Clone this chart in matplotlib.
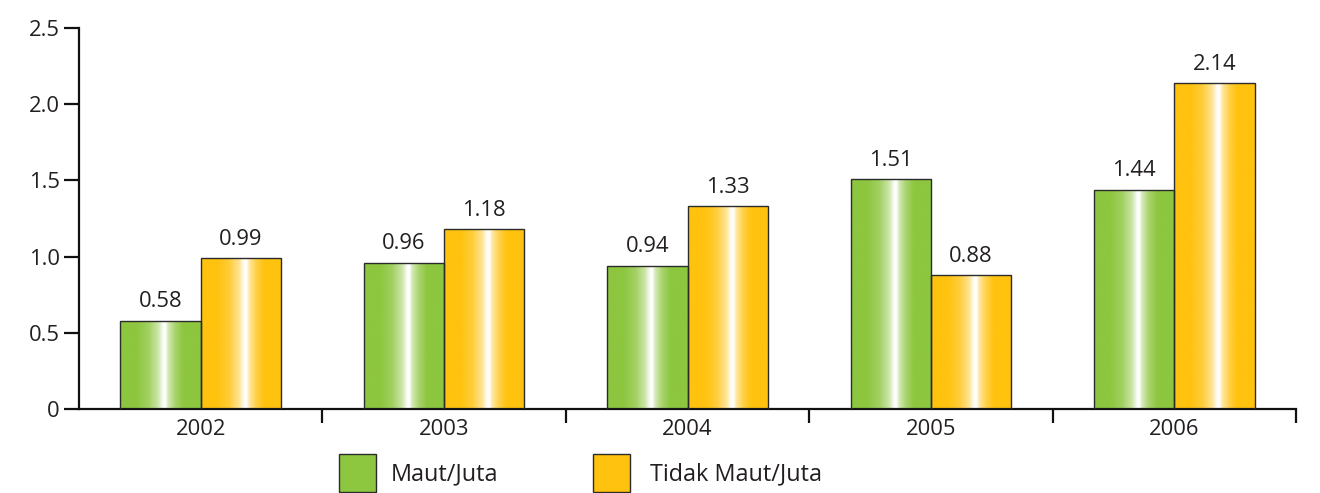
import numpy as np
import matplotlib
matplotlib.use("Agg")
import matplotlib.pyplot as plt
from matplotlib.patches import Rectangle

years = ["2002", "2003", "2004", "2005", "2006"]
maut = [0.58, 0.96, 0.94, 1.51, 1.44]
tidak_maut = [0.99, 1.18, 1.33, 0.88, 2.14]
series_names = ["Maut/Juta", "Tidak Maut/Juta"]
yticks = [0, 0.5, 1.0, 1.5, 2.0, 2.5]
ytick_labels = ["0", "0.5", "1.0", "1.5", "2.0", "2.5"]

GREEN = "#8dc63f"
ORANGE = "#ffc20e"
TXT = "#231f20"
FONT = ["Open Sans", "DejaVu Sans"]
plt.rcParams["font.family"] = FONT

fig = plt.figure(figsize=(13.2, 4.93), dpi=100)
W, H = 1320, 493
ax = fig.add_axes([79 / W, (H - 409) / H, (1296 - 79) / W, (409 - 28) / H])

x = np.arange(len(years))
bw = 0.33


def gradient_img(color):
    rgb = np.array(matplotlib.colors.to_rgb(color))
    t = np.linspace(0, 1, 256)
    w = np.interp(t, [0, 0.2, 0.35, 0.47, 0.54, 0.56, 0.6, 0.68, 0.78, 1.0],
                  [0, 0, 0.18, 0.55, 1.0, 1.0, 0.6, 0.25, 0.0, 0.0])
    img = rgb[None, :] * (1 - w[:, None]) + w[:, None]
    return img[None, :, :]


for vals, off, col in [(maut, -bw / 2, GREEN), (tidak_maut, bw / 2, ORANGE)]:
    bars = ax.bar(x + off, vals, width=bw, color=col, edgecolor="none", zorder=2)
    img = gradient_img(col)
    for b in bars:
        x0, y0 = b.get_x(), b.get_y()
        im = ax.imshow(img, extent=[x0, x0 + b.get_width(), y0, y0 + b.get_height()],
                       aspect="auto", zorder=2.5, interpolation="bilinear")
        im.set_clip_path(b)
    ax.bar(x + off, vals, width=bw, fill=False, edgecolor="#2b2b2b", linewidth=1.0, zorder=3)
    for xi, v in zip(x + off, vals):
        ax.annotate(f"{v:.2f}", (xi, v), xytext=(0, 13.5), textcoords="offset points",
                    ha="center", va="center", fontsize=15.8, color=TXT)

ax.set_xlim(-0.5, len(years) - 0.5)
ax.set_ylim(0, 2.5)

for s in ["top", "right"]:
    ax.spines[s].set_visible(False)
for s in ["left", "bottom"]:
    ax.spines[s].set_linewidth(1.6)
    ax.spines[s].set_color("#111111")

ax.set_yticks(yticks)
ax.set_yticklabels(ytick_labels)
ax.tick_params(axis="y", length=11, width=1.6, pad=3, labelsize=15.8, labelcolor=TXT, color="#111111")

ax.set_xticks(x)
ax.set_xticklabels(years)
ax.tick_params(axis="x", which="major", length=0, pad=7, labelsize=15.8, labelcolor=TXT)
ax.set_xticks(np.arange(0.5, len(years), 1.0), minor=True)
ax.tick_params(axis="x", which="minor", length=10, width=1.6, direction="out", color="#111111")

# legend
leg_items = [(GREEN, series_names[0], 339, 391), (ORANGE, series_names[1], 593, 650)]
for col, name, px, tx in leg_items:
    fig.add_artist(Rectangle((px / W, (H - 492) / H), 37 / W, 38 / H, transform=fig.transFigure,
                             facecolor=col, edgecolor="#2b2b2b", linewidth=1.0))
    fig.text(tx / W, (H - 474) / H, name, ha="left", va="center", fontsize=16.8, color=TXT)

fig.savefig("out.png", dpi=100)
